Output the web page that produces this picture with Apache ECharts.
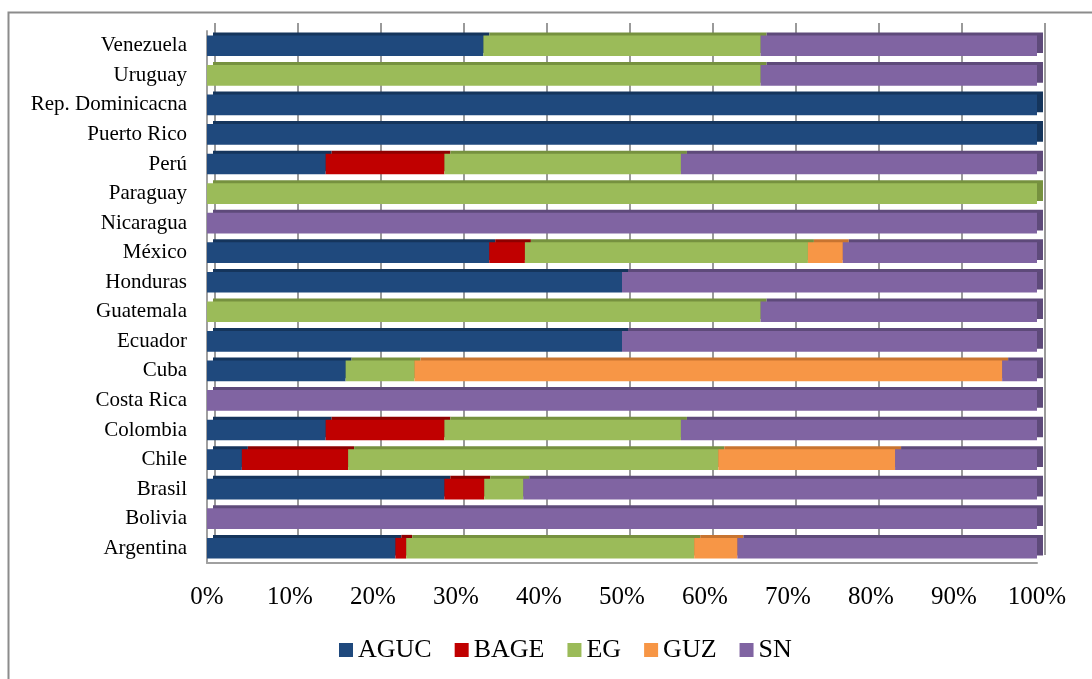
<!DOCTYPE html>
<html>
<head>
<meta charset="utf-8">
<script src="https://cdn.jsdelivr.net/npm/echarts@6/dist/echarts.min.js"></script>
<style>
html,body{margin:0;padding:0;background:#fff;}
#chart{width:1092px;height:679px;}
</style>
</head>
<body>
<div id="chart"></div>
<script>
const categories = ['Argentina','Bolivia','Brasil','Chile','Colombia','Costa Rica','Cuba','Ecuador','Guatemala','Honduras','México','Nicaragua','Paraguay','Perú','Puerto Rico','Rep. Dominicacna','Uruguay','Venezuela'];
const seriesNames = ['AGUC','BAGE','EG','GUZ','SN'];
const AGUC = [22.7, 0, 28.6, 4.2, 14.3, 0, 16.7, 50, 0, 50, 34.0, 0, 0, 14.3, 100, 100, 0, 33.3];
const BAGE = [1.3, 0, 4.8, 12.8, 14.3, 0, 0, 0, 0, 0, 4.3, 0, 0, 14.3, 0, 0, 0, 0];
const EG   = [34.7, 0, 4.7, 44.6, 28.5, 0, 8.3, 0, 66.7, 0, 34.1, 0, 100, 28.5, 0, 0, 66.7, 33.4];
const GUZ  = [5.2, 0, 0, 21.3, 0, 0, 70.8, 0, 0, 0, 4.2, 0, 0, 0, 0, 0, 0, 0];
const SN   = [36.1, 100, 61.9, 17.1, 42.9, 100, 4.2, 50, 33.3, 50, 23.4, 100, 0, 42.9, 0, 0, 33.3, 33.3];
const tickValues = [0,10,20,30,40,50,60,70,80,90,100];

const colors = ['#1F497D','#C00000','#9BBB59','#F79646','#8064A2'];
const sideColors = ['#15355c','#8e0000','#76913f','#c87430','#5e4a7a'];
const dataSets = [AGUC, BAGE, EG, GUZ, SN];

const chart = echarts.init(document.getElementById('chart'));
const font = '"Liberation Serif","Times New Roman",serif';

const series = seriesNames.map((name, i) => ({
  name: name,
  type: 'bar',
  stack: 'total',
  xAxisIndex: 0,
  yAxisIndex: 0,
  barCategoryGap: '30%',
  data: dataSets[i].map(v => v === 0 ? null : v),
  itemStyle: {
    color: colors[i],
    shadowColor: sideColors[i],
    shadowOffsetX: 6,
    shadowOffsetY: -3,
    shadowBlur: 0
  },
  emphasis: { disabled: true },
  z: 3
}));

chart.setOption({
  animation: false,
  backgroundColor: '#fff',
  color: colors,
  graphic: [{
    type: 'rect',
    left: 6, top: 10,
    shape: { width: 1100, height: 700 },
    style: { fill: 'none', stroke: '#8c8c8c', lineWidth: 2 },
    z: -10
  }],
  legend: {
    data: seriesNames,
    left: 334,
    top: 632,
    itemWidth: 14,
    itemHeight: 14,
    itemGap: 23,
    icon: 'rect',
    textStyle: { fontFamily: font, fontSize: 26, color: '#000' }
  },
  grid: [
    { left: 207, right: 55, top: 31, bottom: 116 },
    { left: 215, right: 47, top: 23, bottom: 124 }
  ],
  xAxis: [
    {
      gridIndex: 0, type: 'value', min: 0, max: 100, interval: 10,
      axisLabel: {
        formatter: function (v) { return tickValues.indexOf(v) >= 0 ? v + '%' : ''; },
        fontFamily: font, fontSize: 25, color: '#000', margin: 22
      },
      axisLine: { show: true, lineStyle: { color: '#a0a0a0', width: 2 } },
      axisTick: { show: false },
      splitLine: { show: false }
    },
    {
      gridIndex: 1, type: 'value', min: 0, max: 100, interval: 10,
      axisLabel: { show: false },
      axisLine: { show: false },
      axisTick: { show: false },
      splitLine: { show: true, lineStyle: { color: '#9a9a9a', width: 2 } }
    }
  ],
  yAxis: [
    {
      gridIndex: 0, type: 'category', data: categories,
      axisLabel: { fontFamily: font, fontSize: 21, color: '#000', margin: 20 },
      axisLine: { show: true, lineStyle: { color: '#a0a0a0', width: 2 } },
      axisTick: { show: false }
    },
    {
      gridIndex: 1, type: 'category', data: categories,
      axisLabel: { show: false }, axisLine: { show: false }, axisTick: { show: false }
    }
  ],
  series: series
});
</script>
</body>
</html>
